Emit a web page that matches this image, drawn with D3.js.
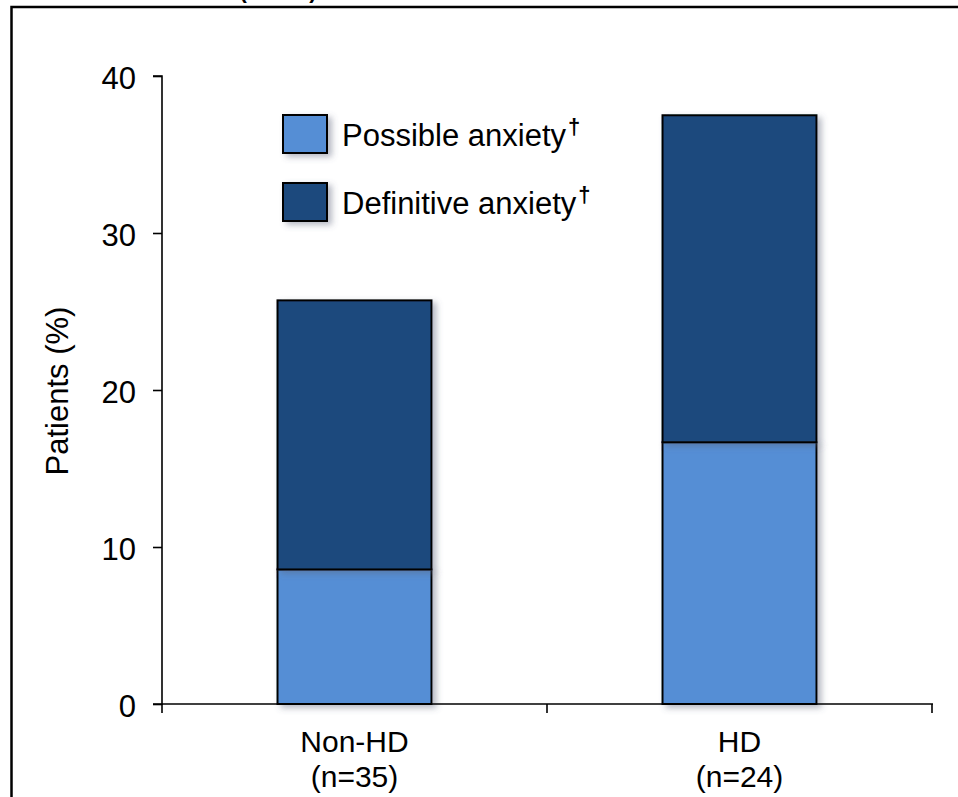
<!DOCTYPE html>
<html>
<head>
<meta charset="utf-8">
<script src="https://cdn.jsdelivr.net/npm/d3@7"></script>
<style>
  html, body { margin: 0; padding: 0; background: #fff; }
  svg { display: block; }
  text { font-family: "Liberation Sans", Arial, sans-serif; fill: #000; }
</style>
</head>
<body>
<svg id="chart" width="958" height="797"></svg>
<script>
// Patient groups and the share (%) of each anxiety level
const groups = ["Non-HD", "HD"];
const groupCounts = ["(n=35)", "(n=24)"];
const possibleAnxiety = [8.57, 16.67];
const definitiveAnxiety = [17.14, 20.83];
const seriesNames = ["Possible anxiety", "Definitive anxiety"];
const seriesColors = ["#558ED5", "#1F497D"];
const yTicks = [0, 10, 20, 30, 40];

const svg = d3.select("#chart");

// soft shadow under bars and legend swatches
const defs = svg.append("defs");
const shadow = defs.append("filter").attr("id", "shadow")
  .attr("x", "-20%").attr("y", "-20%").attr("width", "150%").attr("height", "150%");
shadow.append("feDropShadow")
  .attr("dx", 4).attr("dy", 3).attr("stdDeviation", 3)
  .attr("flood-color", "#5a6478").attr("flood-opacity", 0.45);

// outer frame
svg.append("rect")
  .attr("x", 11.5).attr("y", 7).attr("width", 960).attr("height", 800)
  .attr("fill", "none").attr("stroke", "#000").attr("stroke-width", 2.5);

// title, mostly above the top edge
svg.append("text")
  .attr("x", 278).attr("y", -2)
  .attr("text-anchor", "middle")
  .style("font-size", "22px").style("font-weight", "bold")
  .text("(HADS)");

const x = d3.scaleBand().domain(groups).range([162, 932])
  .paddingInner(0.6).paddingOuter(0.3);
const y = d3.scaleLinear().domain([0, 40]).range([704, 76]);

// stacked values
const stackData = groups.map((g, i) => ({
  group: g,
  "Possible anxiety": possibleAnxiety[i],
  "Definitive anxiety": definitiveAnxiety[i]
}));
const stacked = d3.stack().keys(seriesNames)(stackData);

const barLayer = svg.append("g");
stacked.forEach((layer, si) => {
  barLayer.selectAll(null)
    .data(layer)
    .join("rect")
    .attr("x", d => x(d.data.group))
    .attr("y", d => y(d[1]))
    .attr("width", x.bandwidth())
    .attr("height", d => y(d[0]) - y(d[1]))
    .attr("fill", seriesColors[si])
    .attr("stroke", "#000")
    .attr("stroke-width", 2)
    .attr("filter", "url(#shadow)");
});

// y axis
const yAxis = svg.append("g")
  .attr("transform", "translate(162,0)")
  .call(d3.axisLeft(y).tickValues(yTicks).tickSize(9).tickPadding(17));
yAxis.select(".domain").attr("stroke", "#000").attr("stroke-width", 1.6)
  .attr("d", `M-9,${y(40)}H0V${y(0) + 1}`);
yAxis.selectAll(".tick line").attr("stroke", "#000").attr("stroke-width", 1.6);
yAxis.selectAll(".tick text").style("font-size", "31px")
  .attr("font-family", null).attr("dy", "0.40em");

// x axis with ticks between groups
const xAxisG = svg.append("g").attr("transform", `translate(0,${y(0)})`);
xAxisG.append("line")
  .attr("x1", 153).attr("x2", 933).attr("y1", 0).attr("y2", 0)
  .attr("stroke", "#000").attr("stroke-width", 1.6);
const boundaries = [x.range()[0]].concat(groups.map(g => x(g) + x.bandwidth() / 2 + x.step() / 2));
xAxisG.selectAll(".xtick")
  .data(boundaries)
  .join("line")
  .attr("x1", d => d).attr("x2", d => d)
  .attr("y1", 0).attr("y2", 9)
  .attr("stroke", "#000").attr("stroke-width", 1.6);

// category labels
const cat = svg.append("g");
groups.forEach((g, i) => {
  const cx = x(g) + x.bandwidth() / 2;
  const t = cat.append("text").attr("text-anchor", "middle").style("font-size", "30px");
  t.append("tspan").attr("x", cx).attr("y", 752).text(g);
  t.append("tspan").attr("x", cx).attr("y", 787).text(groupCounts[i]);
});

// y axis title
svg.append("text")
  .attr("transform", "translate(68,391) rotate(-90)")
  .attr("text-anchor", "middle")
  .style("font-size", "31px")
  .text("Patients (%)");

// legend
const legend = svg.append("g");
seriesNames.forEach((name, i) => {
  const top = 115 + i * 68;
  legend.append("rect")
    .attr("x", 283).attr("y", top).attr("width", 44).attr("height", 38)
    .attr("fill", seriesColors[i]).attr("stroke", "#000").attr("stroke-width", 2)
    .attr("filter", "url(#shadow)");
  const t = legend.append("text").attr("x", 342).attr("y", top + 31)
    .style("font-size", "31px");
  t.append("tspan").text(name);
  t.append("tspan").attr("dx", 2).attr("dy", -12).style("font-size", "22px")
    .style("font-weight", "bold").text("†");
});
</script>
</body>
</html>
